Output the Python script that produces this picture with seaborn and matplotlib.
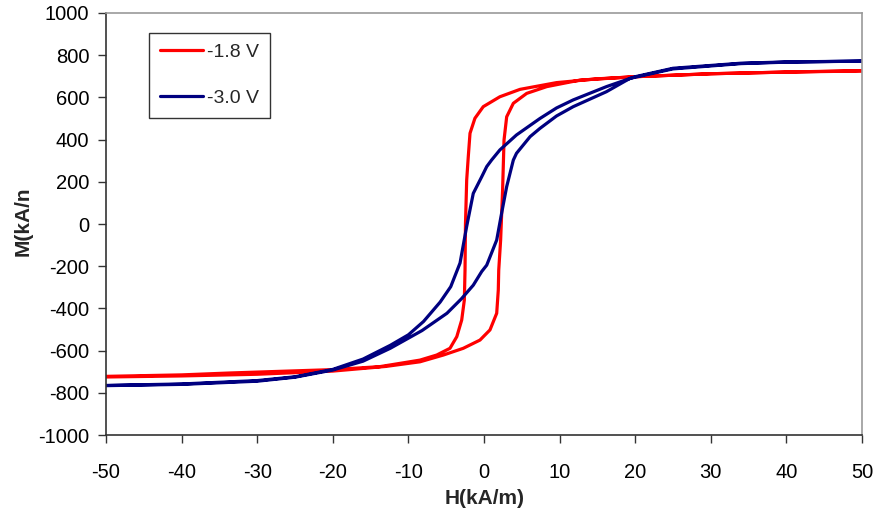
import matplotlib
matplotlib.use("Agg")
import matplotlib.pyplot as plt
import seaborn as sns
import pandas as pd

# Hysteresis loops M(H) for two gate voltages.
# Each loop: descending branch (+50 -> -50) followed by ascending branch (-50 -> +50).
red_h = [50, 40, 30, 20, 15, 9.6, 4.76, 2.1, -0.1, -1.2, -1.85, -2.08, -2.29, -2.45,
         -2.51, -2.6, -2.95, -3.6, -4.5, -6.26, -8.47, -13.8, -20, -33.6, -40, -50,
         -50, -40, -30, -20, -13, -8.47, -5.38, -2.74, -0.53, 0.79, 1.68, 1.89, 1.95,
         2.2, 2.46, 2.65, 3.0, 3.88, 5.65, 8.3, 12.7, 20, 30, 40, 50]
red_m = [725, 720, 712, 698, 688, 670, 638, 603, 556, 501, 430, 319, 208, 0,
         -218, -360, -455, -534, -589, -621, -645, -676, -690, -706, -715, -722,
         -725, -720, -712, -697, -675, -653, -621, -589, -550, -502, -423, -313, -218,
         -76, 161, 398, 508, 572, 619, 651, 682, 698, 712, 720, 727]

blue_h = [50, 40, 34, 25, 20, 16.2, 11.8, 9.6, 7.4, 4.3, 2.1, 1.0, 0.36, -0.3, -1.42,
          -2.3, -3.17, -4.4, -5.8, -8.0, -10.0, -12.4, -16, -20, -25, -30, -40, -50,
          -50, -40, -30, -25, -20, -16, -12.4, -8.2, -4.9, -3.0, -1.42, -0.3, 0.36,
          1.68, 2.33, 3.0, 3.88, 4.3, 6.1, 7.4, 9.6, 11.8, 16.2, 19.3, 25, 34, 40, 50]
blue_m = [772, 768, 762, 738, 698, 651, 588, 550, 500, 422, 351, 303, 272, 224, 145,
          -13, -185, -297, -370, -462, -525, -575, -640, -689, -724, -742, -758, -765,
          -766, -760, -745, -726, -692, -650, -589, -505, -423, -355, -290, -225, -195,
          -76, 51, 177, 303, 335, 414, 453, 512, 556, 627, 690, 735, 760, 767, 772]

series_names = ["-1.8 V", "-3.0 V"]
series_colors = ["#FF0000", "#000080"]

x_ticks = list(range(-50, 51, 10))
y_ticks = list(range(-1000, 1001, 200))

df = pd.concat([
    pd.DataFrame({"H": red_h, "M": red_m, "V": series_names[0]}),
    pd.DataFrame({"H": blue_h, "M": blue_m, "V": series_names[1]}),
])

sns.set_theme(style="white")
plt.rcParams["font.family"] = ["Liberation Sans", "DejaVu Sans"]
plt.rcParams["axes.unicode_minus"] = False

fig = plt.figure(figsize=(8.8, 5.19), dpi=100)
ax = fig.add_axes([0.1205, 0.1618, 0.859, 0.8132])

sns.lineplot(data=df, x="H", y="M", hue="V",
             palette=dict(zip(series_names, series_colors)), sort=False,
             estimator=None, linewidth=2.3, ax=ax)

ax.set_xlim(-50, 50)
ax.set_ylim(-1000, 1000)
ax.set_xticks(x_ticks)
ax.set_yticks(y_ticks)
ax.tick_params(axis="both", which="both", direction="out", length=6, width=1,
               color="#333333", labelsize=14.5, labelcolor="black")
ax.tick_params(axis="x", pad=14)
ax.tick_params(axis="y", pad=6)
ax.tick_params(bottom=True, left=True)

for side in ("left", "bottom"):
    ax.spines[side].set_color("#333333")
    ax.spines[side].set_linewidth(1.2)
for side in ("top", "right"):
    ax.spines[side].set_color("#999999")
    ax.spines[side].set_linewidth(1.2)

ax.set_xlabel("")
ax.set_ylabel("")
fig.text(485 / 880, 1 - 499 / 519, "H(kA/m)", ha="center", va="center",
         fontsize=15, fontweight="bold")
fig.text(23 / 880, 1 - 221 / 519, "M(kA/n", ha="center", va="center",
         rotation=90, fontsize=15, fontweight="bold")

leg = ax.legend(loc="upper left", bbox_to_anchor=((149 - 106) / 756, 1 - (33 - 13) / 422),
                borderaxespad=0, frameon=True, fancybox=False, fontsize=14,
                handlelength=2.2, labelspacing=1.45, borderpad=0.55, handletextpad=0.25)
leg.get_frame().set_edgecolor("black")
leg.get_frame().set_linewidth(1.0)
for line in leg.get_lines():
    line.set_linewidth(2.3)

fig.savefig("out.png", dpi=100)
